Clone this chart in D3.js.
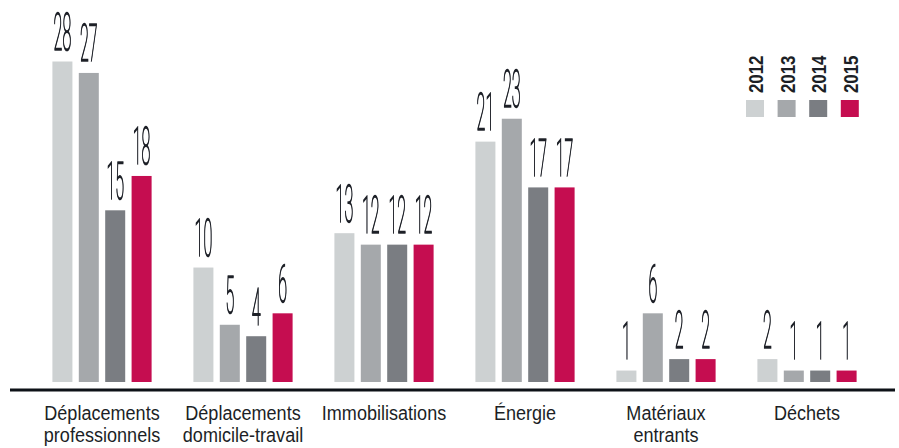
<!DOCTYPE html>
<html><head><meta charset="utf-8">
<script src="https://cdn.jsdelivr.net/npm/d3@7"></script>
<style>
html,body{margin:0;padding:0;background:#fff;}
svg{display:block;}
.t{opacity:0.995;}
</style></head>
<body>
<svg id="c" width="899" height="448"></svg>
<script>
const categories = [["Déplacements","professionnels"],["Déplacements","domicile-travail"],["Immobilisations"],["Énergie"],["Matériaux","entrants"],["Déchets"]];
const years = ["2012","2013","2014","2015"];
const colors = ["#cdd1d2","#a5a8ab","#7a7d82","#c50d50"];
const v2012 = [28,10,13,21,1,2];
const v2013 = [27,5,12,23,6,1];
const v2014 = [15,4,12,17,2,1];
const v2015 = [18,6,12,17,2,1];
const series = [v2012,v2013,v2014,v2015];

const svg = d3.select("#c");
const keys = categories.map(c=>c.join(" "));
const x0 = d3.scaleBand().domain(keys).range([31.5,877.5]);
const x1 = d3.scaleBand().domain(years).range([-49.6,49.6]).paddingInner(0.242);
const y = d3.scaleLinear().domain([0,28]).range([382,61.5]);

const data = [];
keys.forEach((k,i)=>years.forEach((yr,j)=>data.push({k,yr,j,v:series[j][i]})));

const cx = d=>x0(d.k)+x0.bandwidth()/2+x1(d.yr);
svg.append("g").selectAll("rect").data(data).join("rect")
  .attr("x",cx).attr("width",x1.bandwidth())
  .attr("y",d=>y(d.v)).attr("height",d=>y(0)-y(d.v))
  .attr("fill",d=>colors[d.j]);

svg.append("g").attr("class","t").selectAll("text").data(data).join("text")
  .attr("transform",d=>`translate(${cx(d)+x1.bandwidth()/2},${y(d.v)-11.5}) scale(0.31,1)`)
  .attr("text-anchor","middle")
  .attr("font-family","Roboto, 'Liberation Sans', sans-serif")
  .attr("font-weight",100)
  .attr("font-size",52).attr("fill","#1c1f26")
  .attr("stroke","#1c1f26").attr("stroke-width",1.6)
  .text(d=>d.v);

// axis line
svg.append("line").attr("x1",10).attr("x2",895).attr("y1",390).attr("y2",390)
  .attr("stroke","#0d1117").attr("stroke-width",3);

// category labels
const lab = svg.append("g").attr("class","t").selectAll("text").data(categories).join("text")
  .attr("text-anchor","middle")
  .attr("font-family","'Liberation Sans', sans-serif")
  .attr("font-size",21).attr("fill","#1c1f26")
  .attr("transform",(d,i)=>`translate(${x0(keys[i])+x0.bandwidth()/2},0) scale(0.86,1)`);
lab.selectAll("tspan").data(d=>d).join("tspan")
  .attr("x",0).attr("y",(d,i)=>420+i*22).text(d=>d);

// legend
const lg = svg.append("g").attr("class","t");
years.forEach((yr,j)=>{
  const lx = 746 + j*31.6;
  lg.append("rect").attr("x",lx).attr("y",100).attr("width",18).attr("height",17).attr("fill",colors[j]);
  lg.append("text").attr("transform",`translate(${lx+17},93) rotate(-90) scale(0.8,1)`)
    .attr("font-family","'Liberation Sans', sans-serif")
    .attr("font-weight",600)
    .attr("font-size",21).attr("fill","#1c1f26").text(yr);
});
</script>
</body></html>
